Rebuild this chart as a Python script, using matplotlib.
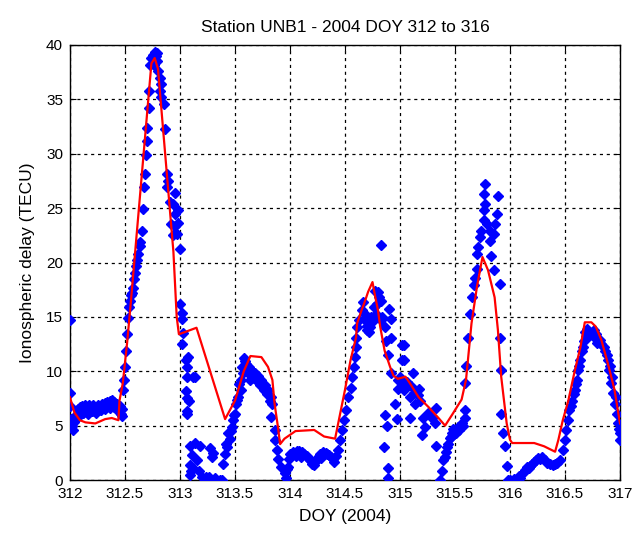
import matplotlib
matplotlib.use("Agg")
import matplotlib.pyplot as plt

plt.rcParams['font.family'] = ['Liberation Sans', 'DejaVu Sans']

title = "Station UNB1 - 2004 DOY 312 to 316"
xlabel = "DOY (2004)"
ylabel = "Ionospheric delay (TECU)"
xticks = [312, 312.5, 313, 313.5, 314, 314.5, 315, 315.5, 316, 316.5, 317]
xticklabels = ["312", "312.5", "313", "313.5", "314", "314.5", "315", "315.5", "316", "316.5", "317"]
yticks = [0, 5, 10, 15, 20, 25, 30, 35, 40]

# observed (blue diamonds)
obs_doy = [
    312.00, 312.00, 312.00, 312.01, 312.02, 312.03, 312.04, 312.05, 312.07, 312.08,
    312.09, 312.10, 312.11, 312.12, 312.13, 312.14, 312.15, 312.16, 312.17, 312.18,
    312.19, 312.20, 312.21, 312.22, 312.23, 312.24, 312.25, 312.26, 312.27, 312.28,
    312.29, 312.30, 312.31, 312.32, 312.33, 312.34, 312.35, 312.36, 312.37, 312.38,
    312.39, 312.40, 312.41, 312.42, 312.43, 312.44, 312.45, 312.46, 312.47, 312.47,
    312.48, 312.49, 312.50, 312.51, 312.52, 312.53, 312.54, 312.545, 312.55, 312.56,
    312.575, 312.585, 312.59, 312.60, 312.605, 312.62, 312.635, 312.64, 312.65, 312.66,
    312.67, 312.68, 312.69, 312.70, 312.70, 312.72, 312.72, 312.73, 312.74, 312.75,
    312.76, 312.77, 312.78, 312.79, 312.79, 312.80, 312.82, 312.83, 312.82, 312.83,
    312.85, 312.86, 312.88, 312.89, 312.88, 312.91, 312.94, 312.95, 312.95, 312.98,
    312.92, 312.95, 312.97, 312.94, 312.98, 313.00, 313.00, 313.02, 313.02, 313.03,
    313.02, 313.05, 313.07, 313.06, 313.06, 313.12, 313.14, 313.05, 313.06, 313.08,
    313.06, 313.06, 313.09, 313.14, 313.18, 313.11, 313.15, 313.09, 313.12, 313.17,
    313.09, 313.10, 313.20, 313.24, 313.26, 313.30, 313.32, 313.36, 313.38, 313.27,
    313.29, 313.30, 313.39, 313.41, 313.42, 313.44, 313.45, 313.47, 313.48, 313.50,
    313.51, 313.53, 313.55, 313.55, 313.56, 313.58, 313.59, 313.60, 313.61, 313.62,
    313.63, 313.65, 313.66, 313.68, 313.69, 313.71, 313.72, 313.74, 313.75, 313.77,
    313.78, 313.80, 313.81, 313.83, 313.84, 313.83, 313.86, 313.86, 313.88, 313.89,
    313.92, 313.95, 313.96, 313.97, 313.98, 313.99, 314.00, 314.03, 314.06, 314.08,
    314.11, 314.13, 314.15, 314.18, 314.20, 314.23, 314.25, 314.27, 314.30, 314.33,
    314.35, 314.37, 314.39, 314.42, 314.44, 314.45, 314.47, 314.49, 314.51, 314.53,
    314.55, 314.56, 314.58, 314.59, 314.60, 314.60, 314.61, 314.63, 314.65, 314.66,
    314.68, 314.70, 314.70, 314.73, 314.74, 314.76, 314.77, 314.80, 314.81, 314.83,
    314.78, 314.83, 314.86, 314.83, 314.90, 314.92, 314.92, 314.89, 314.92, 314.86,
    314.88, 314.85, 314.89, 314.89, 314.95, 314.97, 314.98, 315.00, 315.02, 315.02,
    315.04, 315.04, 315.00, 315.03, 314.98, 315.04, 315.12, 315.17, 315.09, 315.14,
    315.18, 315.09, 315.21, 315.23, 315.20, 315.29, 315.33, 315.32, 315.33, 315.38,
    315.36, 315.41, 315.42, 315.44, 315.45, 315.47, 315.48, 315.50, 315.53, 315.56,
    315.59, 315.59, 315.59, 315.60, 315.62, 315.64, 315.65, 315.67, 315.68, 315.70,
    315.70, 315.71, 315.73, 315.74, 315.76, 315.76, 315.76, 315.77, 315.77, 315.79,
    315.82, 315.82, 315.85, 315.86, 315.88, 315.89, 315.83, 315.85, 315.91, 315.91,
    315.92, 315.92, 315.94, 315.95, 315.97, 315.98, 316.00, 316.05, 316.09, 316.12,
    316.15, 316.18, 316.20, 316.22, 316.25, 316.29, 316.32, 316.36, 316.41, 316.45,
    316.48, 316.50, 316.51, 316.53, 316.54, 316.56, 316.59, 316.61, 316.62, 316.64,
    316.65, 316.67, 316.68, 316.70, 316.73, 316.76, 316.77, 316.80, 316.83, 316.86,
    316.89, 316.90, 316.92, 316.94, 316.95, 316.97, 316.98, 317.00, 317.00,
    # extra points filling the thicker bands
    312.12, 312.16, 312.20, 312.24, 312.28, 312.32, 312.36, 312.40, 312.44,
    313.64, 313.67, 313.70, 313.73, 313.76, 313.79, 313.82,
    313.57, 313.54, 313.52, 313.49, 313.46, 313.43,
    314.05, 314.10, 314.16, 314.22, 314.28, 314.34, 314.40,
    314.67, 314.69, 314.72, 314.75, 314.79, 314.84, 314.87,
    315.06, 315.10, 315.13, 315.16, 315.25, 315.27,
    315.39, 315.43, 315.46, 315.51, 315.54, 315.57,
    316.04, 316.08, 316.14, 316.17, 316.24, 316.27, 316.34, 316.39, 316.43,
    316.55, 316.58, 316.60, 316.63, 316.66, 316.69, 316.71, 316.72, 316.75,
    316.78, 316.79, 316.82, 316.85, 316.88, 316.91, 316.93, 316.96, 316.99,
]
obs_tecu = [
    14.7, 8.0, 6.8, 5.6, 5.0, 4.6, 5.3, 6.0, 6.5, 5.9,
    6.7, 6.4, 6.8, 6.2, 6.6, 6.9, 6.3, 6.6, 6.9, 6.4,
    6.7, 6.5, 6.9, 6.3, 6.7, 6.6, 6.9, 6.4, 6.8, 6.6,
    7.0, 6.7, 6.9, 7.1, 6.8, 7.2, 7.0, 7.3, 7.1, 7.4,
    7.0, 7.2, 6.8, 6.6, 7.0, 6.3, 6.8, 6.1, 5.9, 6.5,
    8.3, 9.2, 10.4, 11.9, 13.4, 14.9, 15.9, 16.5, 17.0, 17.2,
    17.7, 18.5, 19.0, 19.7, 20.2, 20.8, 21.5, 21.9, 22.9, 24.9,
    26.9, 28.1, 29.9, 31.2, 32.4, 34.2, 35.8, 38.2, 38.8, 39.1,
    38.2, 39.4, 39.0, 39.3, 38.5, 37.6, 37.0, 36.4, 35.8, 35.2,
    34.6, 32.3, 28.1, 27.5, 26.9, 25.6, 25.4, 26.4, 24.5, 24.8,
    23.5, 23.4, 22.6, 22.5, 23.6, 21.2, 16.2, 15.4, 14.8, 13.5,
    12.5, 11.0, 11.3, 10.4, 9.5, 9.5, 9.5, 8.2, 7.5, 7.3,
    6.3, 6.1, 3.1, 3.4, 3.1, 2.3, 1.8, 1.4, 1.1, 0.8,
    0.5, 0.8, 0.3, 0.3, 0.3, 0.0, 0.2, 0.0, 0.0, 2.9,
    2.1, 2.5, 1.5, 2.4, 3.3, 4.3, 3.8, 4.9, 5.5, 6.1,
    7.0, 7.6, 8.3, 9.2, 10.4, 11.2, 10.9, 10.7, 10.2, 9.8,
    10.4, 10.0, 9.6, 9.8, 9.3, 9.6, 9.0, 9.2, 8.6, 8.7,
    8.2, 8.3, 7.8, 7.6, 7.0, 5.8, 4.6, 3.7, 2.8, 1.9,
    1.2, 0.6, 0.2, 1.0, 1.2, 1.9, 2.4, 2.6, 2.7, 2.7,
    2.6, 2.4, 2.2, 1.8, 1.5, 1.7, 2.1, 2.4, 2.6, 2.5,
    2.3, 2.1, 1.9, 2.2, 2.8, 3.7, 4.6, 5.5, 6.4, 7.6,
    8.5, 9.5, 10.4, 11.3, 12.2, 13.1, 14.1, 14.7, 15.6, 16.4,
    15.3, 14.2, 13.8, 14.1, 15.0, 15.9, 17.4, 17.3, 16.8, 16.5,
    15.3, 14.7, 14.1, 21.6, 15.7, 14.8, 13.1, 11.5, 9.8, 6.0,
    5.0, 3.0, 1.1, 0.2, 7.0, 5.6, 9.2, 9.5, 12.4, 11.0,
    12.4, 11.0, 9.3, 8.8, 8.4, 8.3, 9.8, 8.4, 7.6, 7.0,
    7.3, 5.7, 5.7, 4.9, 4.1, 5.7, 6.6, 5.2, 3.1, 0.8,
    0.0, 2.1, 2.6, 3.3, 3.9, 4.3, 4.7, 4.6, 4.9, 5.2,
    5.7, 6.4, 8.9, 10.5, 13.1, 15.3, 16.8, 17.9, 18.6, 19.4,
    20.8, 21.4, 22.3, 22.9, 23.9, 24.8, 26.3, 27.2, 25.4, 23.5,
    22.9, 22.0, 22.6, 23.5, 24.5, 26.1, 20.6, 19.3, 18.0, 13.1,
    10.1, 6.1, 4.3, 3.1, 1.3, 0.0, 0.0, 0.0, 0.2, 0.6,
    1.2, 1.3, 1.5, 1.7, 2.0, 2.1, 1.8, 1.5, 1.5, 1.8,
    2.8, 3.7, 4.6, 5.5, 6.4, 7.3, 8.3, 9.2, 10.1, 11.0,
    11.9, 12.8, 13.6, 13.9, 13.5, 13.8, 13.1, 12.8, 12.5, 11.9,
    11.0, 10.1, 8.9, 8.0, 7.0, 6.1, 5.2, 4.3, 3.7,
    # extra points filling the thicker bands
    6.2, 6.1, 6.3, 6.2, 6.4, 6.5, 6.6, 6.7, 6.9,
    9.2, 9.4, 9.1, 8.7, 8.3, 7.9, 7.3,
    9.8, 8.8, 7.4, 6.0, 4.5, 3.0,
    2.2, 2.1, 2.0, 1.4, 2.0, 2.4, 1.7,
    14.8, 14.8, 13.6, 14.6, 16.2, 15.0, 12.8,
    9.0, 8.6, 8.0, 7.8, 6.2, 6.0,
    1.8, 3.0, 4.0, 4.3, 4.6, 5.0,
    0.1, 0.4, 0.9, 1.1, 1.8, 1.9, 1.6, 1.4, 1.6,
    6.8, 7.9, 8.8, 10.5, 12.2, 13.2, 13.4, 13.2, 13.3,
    13.4, 12.6, 12.9, 12.2, 11.5, 10.5, 9.5, 7.6, 4.7,
]

# model (red line)
model_doy = [
    312.00, 312.04, 312.09, 312.14, 312.23, 312.32, 312.38, 312.44, 312.45, 312.48,
    312.52, 312.55, 312.74, 312.77, 312.80, 312.94, 312.97, 312.99, 313.15, 313.41,
    313.50, 313.58, 313.64, 313.74, 313.80, 313.84, 313.86, 313.89, 313.91, 313.95,
    314.05, 314.22, 314.31, 314.41, 314.45, 314.50, 314.55, 314.60, 314.61, 314.65,
    314.68, 314.71, 314.75, 314.77, 314.80, 314.82, 314.86, 314.91, 314.94, 314.98,
    315.05, 315.09, 315.17, 315.26, 315.35, 315.41, 315.48, 315.56, 315.60, 315.65,
    315.70, 315.75, 315.80, 315.86, 315.89, 315.92, 315.97, 316.00, 316.02, 316.22,
    316.31, 316.41, 316.44, 316.48, 316.53, 316.59, 316.64, 316.68, 316.74, 316.78,
    316.83, 316.89, 316.95, 317.00,
]
model_tecu = [
    7.6, 6.2, 5.5, 5.3, 5.2, 5.6, 5.7, 5.5, 7.3, 8.9,
    12.7, 16.0, 38.3, 38.8, 37.8, 21.0, 15.0, 13.4, 14.0, 5.6,
    7.3, 10.0, 11.4, 11.3, 10.4, 9.2, 7.0, 4.9, 3.3, 3.8,
    4.5, 4.6, 4.0, 3.8, 5.8, 8.3, 11.0, 13.1, 14.4, 15.6,
    16.4, 17.3, 18.2, 17.1, 15.6, 14.1, 11.9, 10.4, 9.6, 9.3,
    9.5, 8.9, 7.6, 6.7, 5.7, 5.0, 6.1, 7.4, 9.2, 14.4,
    17.8, 20.5, 19.3, 16.8, 13.8, 9.5, 5.2, 3.7, 3.4, 3.4,
    3.1, 2.6, 3.7, 5.5, 7.3, 10.1, 12.2, 14.5, 14.5, 14.1,
    12.9, 10.7, 8.3, 5.2,
]

fig = plt.figure(figsize=(6.33, 5.35), dpi=100)
ax = fig.add_axes([70/633, 55/535, 550/633, 435/535])

ax.plot(obs_doy, obs_tecu, linestyle='none', marker='D', markersize=4.8,
        color='#0000ff', markeredgecolor='#0000ff', zorder=3, clip_on=True)
ax.plot(model_doy, model_tecu, color='#ff0000', linewidth=1.6, zorder=4)

ax.set_xlim(312, 317)
ax.set_ylim(0, 40)
ax.set_xticks(xticks)
ax.set_xticklabels(xticklabels)
ax.set_yticks(yticks)
ax.grid(True, color='black', linestyle=(0, (2.5, 3)), linewidth=0.9)
ax.set_axisbelow(True)
ax.tick_params(direction='in', top=True, right=True, length=4, labelsize=11, pad=5)
for s in ax.spines.values():
    s.set_linewidth(1.0)

ax.set_title(title, fontsize=12.5, pad=9)
ax.set_xlabel(xlabel, fontsize=12.5, labelpad=6)
ax.set_ylabel(ylabel, fontsize=12.5, labelpad=8)

fig.savefig("out.png", dpi=100)
